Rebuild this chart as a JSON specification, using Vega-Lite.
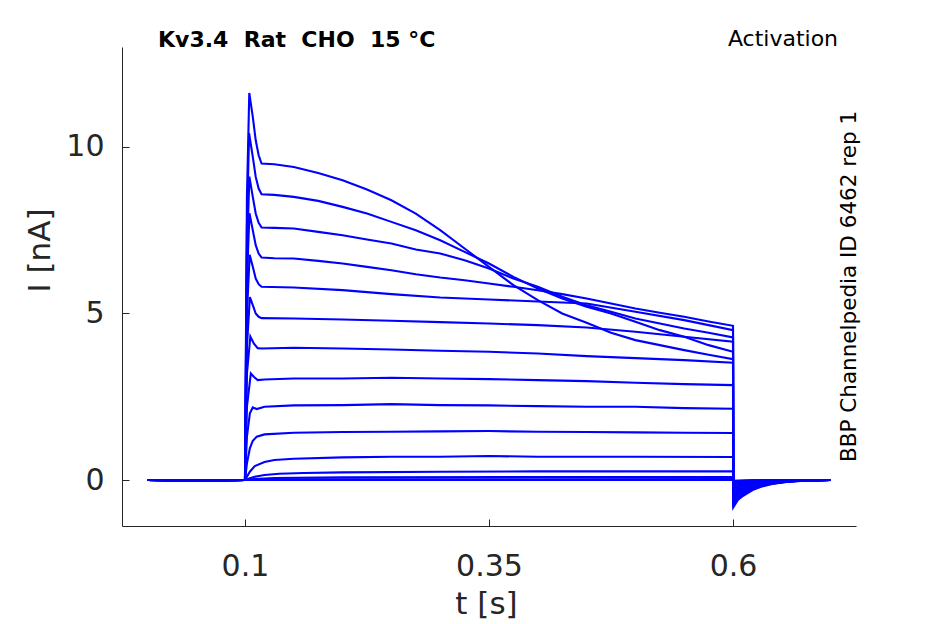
{
  "$schema": "https://vega.github.io/schema/vega-lite/v6.json",
  "width": 734,
  "height": 479,
  "autosize": {"type": "none"},
  "padding": {"left": 122, "top": 47, "right": 89, "bottom": 98},
  "background": "white",
  "datasets": {
    "sweeps": [
      {"sweep": 1, "t": 0, "I": 0}, {"sweep": 1, "t": 0.05, "I": -0.02}, {"sweep": 1, "t": 0.1, "I": 0},
      {"sweep": 1, "t": 0.102, "I": 8.5}, {"sweep": 1, "t": 0.1044, "I": 11.62}, {"sweep": 1, "t": 0.108, "I": 10.9},
      {"sweep": 1, "t": 0.111, "I": 10.2}, {"sweep": 1, "t": 0.114, "I": 9.75}, {"sweep": 1, "t": 0.117, "I": 9.5},
      {"sweep": 1, "t": 0.13, "I": 9.48}, {"sweep": 1, "t": 0.15, "I": 9.4}, {"sweep": 1, "t": 0.175, "I": 9.22},
      {"sweep": 1, "t": 0.2, "I": 9.0}, {"sweep": 1, "t": 0.225, "I": 8.72}, {"sweep": 1, "t": 0.25, "I": 8.4},
      {"sweep": 1, "t": 0.275, "I": 8.0}, {"sweep": 1, "t": 0.3, "I": 7.5}, {"sweep": 1, "t": 0.325, "I": 6.95},
      {"sweep": 1, "t": 0.35, "I": 6.4}, {"sweep": 1, "t": 0.375, "I": 5.85}, {"sweep": 1, "t": 0.4, "I": 5.4},
      {"sweep": 1, "t": 0.425, "I": 5.0}, {"sweep": 1, "t": 0.45, "I": 4.72}, {"sweep": 1, "t": 0.475, "I": 4.42},
      {"sweep": 1, "t": 0.5, "I": 4.2}, {"sweep": 1, "t": 0.525, "I": 4.05}, {"sweep": 1, "t": 0.55, "I": 3.9},
      {"sweep": 1, "t": 0.575, "I": 3.76}, {"sweep": 1, "t": 0.6, "I": 3.63}, {"sweep": 1, "t": 0.6003, "I": -0.82},
      {"sweep": 1, "t": 0.605, "I": -0.6}, {"sweep": 1, "t": 0.61, "I": -0.48}, {"sweep": 1, "t": 0.62, "I": -0.3},
      {"sweep": 1, "t": 0.63, "I": -0.19}, {"sweep": 1, "t": 0.64, "I": -0.12}, {"sweep": 1, "t": 0.655, "I": -0.06},
      {"sweep": 1, "t": 0.67, "I": -0.03}, {"sweep": 1, "t": 0.7, "I": 0},

      {"sweep": 2, "t": 0, "I": 0}, {"sweep": 2, "t": 0.05, "I": -0.01}, {"sweep": 2, "t": 0.1, "I": 0},
      {"sweep": 2, "t": 0.102, "I": 7.6}, {"sweep": 2, "t": 0.1042, "I": 10.41}, {"sweep": 2, "t": 0.108, "I": 9.7},
      {"sweep": 2, "t": 0.111, "I": 9.1}, {"sweep": 2, "t": 0.114, "I": 8.75}, {"sweep": 2, "t": 0.117, "I": 8.58},
      {"sweep": 2, "t": 0.13, "I": 8.56}, {"sweep": 2, "t": 0.15, "I": 8.5}, {"sweep": 2, "t": 0.175, "I": 8.38},
      {"sweep": 2, "t": 0.2, "I": 8.2}, {"sweep": 2, "t": 0.225, "I": 8.0}, {"sweep": 2, "t": 0.25, "I": 7.75},
      {"sweep": 2, "t": 0.275, "I": 7.5}, {"sweep": 2, "t": 0.3, "I": 7.2}, {"sweep": 2, "t": 0.325, "I": 6.85},
      {"sweep": 2, "t": 0.35, "I": 6.5}, {"sweep": 2, "t": 0.375, "I": 6.1}, {"sweep": 2, "t": 0.4, "I": 5.75},
      {"sweep": 2, "t": 0.425, "I": 5.45}, {"sweep": 2, "t": 0.45, "I": 5.2}, {"sweep": 2, "t": 0.475, "I": 5.0},
      {"sweep": 2, "t": 0.5, "I": 4.75}, {"sweep": 2, "t": 0.525, "I": 4.5}, {"sweep": 2, "t": 0.55, "I": 4.3},
      {"sweep": 2, "t": 0.575, "I": 4.05}, {"sweep": 2, "t": 0.6, "I": 3.85}, {"sweep": 2, "t": 0.6003, "I": -0.75},
      {"sweep": 2, "t": 0.605, "I": -0.55}, {"sweep": 2, "t": 0.61, "I": -0.44}, {"sweep": 2, "t": 0.62, "I": -0.28},
      {"sweep": 2, "t": 0.63, "I": -0.17}, {"sweep": 2, "t": 0.64, "I": -0.11}, {"sweep": 2, "t": 0.655, "I": -0.05},
      {"sweep": 2, "t": 0.67, "I": -0.02}, {"sweep": 2, "t": 0.7, "I": 0},

      {"sweep": 3, "t": 0, "I": 0}, {"sweep": 3, "t": 0.05, "I": -0.02}, {"sweep": 3, "t": 0.1, "I": 0},
      {"sweep": 3, "t": 0.102, "I": 6.8}, {"sweep": 3, "t": 0.1045, "I": 9.11}, {"sweep": 3, "t": 0.108, "I": 8.5},
      {"sweep": 3, "t": 0.111, "I": 8.0}, {"sweep": 3, "t": 0.114, "I": 7.72}, {"sweep": 3, "t": 0.117, "I": 7.58},
      {"sweep": 3, "t": 0.13, "I": 7.57}, {"sweep": 3, "t": 0.15, "I": 7.55}, {"sweep": 3, "t": 0.175, "I": 7.45},
      {"sweep": 3, "t": 0.2, "I": 7.35}, {"sweep": 3, "t": 0.225, "I": 7.22}, {"sweep": 3, "t": 0.25, "I": 7.1},
      {"sweep": 3, "t": 0.275, "I": 6.92}, {"sweep": 3, "t": 0.3, "I": 6.8}, {"sweep": 3, "t": 0.325, "I": 6.6},
      {"sweep": 3, "t": 0.35, "I": 6.35}, {"sweep": 3, "t": 0.375, "I": 6.05}, {"sweep": 3, "t": 0.4, "I": 5.8},
      {"sweep": 3, "t": 0.425, "I": 5.5}, {"sweep": 3, "t": 0.45, "I": 5.25}, {"sweep": 3, "t": 0.475, "I": 5.05},
      {"sweep": 3, "t": 0.5, "I": 4.85}, {"sweep": 3, "t": 0.525, "I": 4.7}, {"sweep": 3, "t": 0.55, "I": 4.55},
      {"sweep": 3, "t": 0.575, "I": 4.42}, {"sweep": 3, "t": 0.6, "I": 4.28}, {"sweep": 3, "t": 0.6003, "I": -0.68},
      {"sweep": 3, "t": 0.605, "I": -0.5}, {"sweep": 3, "t": 0.61, "I": -0.4}, {"sweep": 3, "t": 0.62, "I": -0.25},
      {"sweep": 3, "t": 0.63, "I": -0.16}, {"sweep": 3, "t": 0.64, "I": -0.1}, {"sweep": 3, "t": 0.655, "I": -0.05},
      {"sweep": 3, "t": 0.67, "I": -0.02}, {"sweep": 3, "t": 0.7, "I": 0},

      {"sweep": 4, "t": 0, "I": 0}, {"sweep": 4, "t": 0.05, "I": -0.01}, {"sweep": 4, "t": 0.1, "I": 0},
      {"sweep": 4, "t": 0.102, "I": 6.0}, {"sweep": 4, "t": 0.1046, "I": 8.01}, {"sweep": 4, "t": 0.108, "I": 7.5},
      {"sweep": 4, "t": 0.111, "I": 7.05}, {"sweep": 4, "t": 0.114, "I": 6.8}, {"sweep": 4, "t": 0.117, "I": 6.68},
      {"sweep": 4, "t": 0.13, "I": 6.66}, {"sweep": 4, "t": 0.15, "I": 6.65}, {"sweep": 4, "t": 0.175, "I": 6.58},
      {"sweep": 4, "t": 0.2, "I": 6.5}, {"sweep": 4, "t": 0.225, "I": 6.4}, {"sweep": 4, "t": 0.25, "I": 6.3},
      {"sweep": 4, "t": 0.275, "I": 6.18}, {"sweep": 4, "t": 0.3, "I": 6.08}, {"sweep": 4, "t": 0.325, "I": 6.0},
      {"sweep": 4, "t": 0.35, "I": 5.9}, {"sweep": 4, "t": 0.375, "I": 5.8}, {"sweep": 4, "t": 0.4, "I": 5.7},
      {"sweep": 4, "t": 0.425, "I": 5.58}, {"sweep": 4, "t": 0.45, "I": 5.45}, {"sweep": 4, "t": 0.475, "I": 5.3},
      {"sweep": 4, "t": 0.5, "I": 5.15}, {"sweep": 4, "t": 0.525, "I": 5.02}, {"sweep": 4, "t": 0.55, "I": 4.9},
      {"sweep": 4, "t": 0.575, "I": 4.76}, {"sweep": 4, "t": 0.6, "I": 4.63}, {"sweep": 4, "t": 0.6003, "I": -0.6},
      {"sweep": 4, "t": 0.605, "I": -0.44}, {"sweep": 4, "t": 0.61, "I": -0.35}, {"sweep": 4, "t": 0.62, "I": -0.22},
      {"sweep": 4, "t": 0.63, "I": -0.14}, {"sweep": 4, "t": 0.64, "I": -0.09}, {"sweep": 4, "t": 0.655, "I": -0.04},
      {"sweep": 4, "t": 0.67, "I": -0.02}, {"sweep": 4, "t": 0.7, "I": 0},

      {"sweep": 5, "t": 0, "I": 0}, {"sweep": 5, "t": 0.05, "I": -0.02}, {"sweep": 5, "t": 0.1, "I": 0},
      {"sweep": 5, "t": 0.102, "I": 5.0}, {"sweep": 5, "t": 0.1048, "I": 6.76}, {"sweep": 5, "t": 0.108, "I": 6.4},
      {"sweep": 5, "t": 0.111, "I": 6.05}, {"sweep": 5, "t": 0.114, "I": 5.88}, {"sweep": 5, "t": 0.117, "I": 5.8},
      {"sweep": 5, "t": 0.15, "I": 5.78}, {"sweep": 5, "t": 0.2, "I": 5.7}, {"sweep": 5, "t": 0.25, "I": 5.58},
      {"sweep": 5, "t": 0.3, "I": 5.48}, {"sweep": 5, "t": 0.35, "I": 5.42}, {"sweep": 5, "t": 0.4, "I": 5.36},
      {"sweep": 5, "t": 0.45, "I": 5.3}, {"sweep": 5, "t": 0.5, "I": 5.05}, {"sweep": 5, "t": 0.55, "I": 4.8},
      {"sweep": 5, "t": 0.6, "I": 4.5}, {"sweep": 5, "t": 0.6003, "I": -0.53}, {"sweep": 5, "t": 0.605, "I": -0.39},
      {"sweep": 5, "t": 0.61, "I": -0.31}, {"sweep": 5, "t": 0.62, "I": -0.2}, {"sweep": 5, "t": 0.63, "I": -0.12},
      {"sweep": 5, "t": 0.64, "I": -0.08}, {"sweep": 5, "t": 0.655, "I": -0.04}, {"sweep": 5, "t": 0.67, "I": -0.02},
      {"sweep": 5, "t": 0.7, "I": 0},

      {"sweep": 6, "t": 0, "I": 0}, {"sweep": 6, "t": 0.05, "I": -0.01}, {"sweep": 6, "t": 0.1, "I": 0},
      {"sweep": 6, "t": 0.102, "I": 4.0}, {"sweep": 6, "t": 0.105, "I": 5.49}, {"sweep": 6, "t": 0.108, "I": 5.25},
      {"sweep": 6, "t": 0.111, "I": 5.0}, {"sweep": 6, "t": 0.114, "I": 4.9}, {"sweep": 6, "t": 0.117, "I": 4.86},
      {"sweep": 6, "t": 0.15, "I": 4.85}, {"sweep": 6, "t": 0.2, "I": 4.82}, {"sweep": 6, "t": 0.25, "I": 4.78},
      {"sweep": 6, "t": 0.3, "I": 4.74}, {"sweep": 6, "t": 0.35, "I": 4.7}, {"sweep": 6, "t": 0.4, "I": 4.65},
      {"sweep": 6, "t": 0.45, "I": 4.58}, {"sweep": 6, "t": 0.5, "I": 4.45}, {"sweep": 6, "t": 0.55, "I": 4.3},
      {"sweep": 6, "t": 0.6, "I": 4.15}, {"sweep": 6, "t": 0.6003, "I": -0.46}, {"sweep": 6, "t": 0.605, "I": -0.34},
      {"sweep": 6, "t": 0.61, "I": -0.27}, {"sweep": 6, "t": 0.62, "I": -0.17}, {"sweep": 6, "t": 0.63, "I": -0.11},
      {"sweep": 6, "t": 0.64, "I": -0.07}, {"sweep": 6, "t": 0.655, "I": -0.03}, {"sweep": 6, "t": 0.67, "I": -0.01},
      {"sweep": 6, "t": 0.7, "I": 0},

      {"sweep": 7, "t": 0, "I": 0}, {"sweep": 7, "t": 0.05, "I": -0.02}, {"sweep": 7, "t": 0.1, "I": 0},
      {"sweep": 7, "t": 0.102, "I": 3.2}, {"sweep": 7, "t": 0.1055, "I": 4.31}, {"sweep": 7, "t": 0.109, "I": 4.1},
      {"sweep": 7, "t": 0.113, "I": 3.96}, {"sweep": 7, "t": 0.117, "I": 3.95}, {"sweep": 7, "t": 0.15, "I": 3.97},
      {"sweep": 7, "t": 0.2, "I": 3.95}, {"sweep": 7, "t": 0.25, "I": 3.92}, {"sweep": 7, "t": 0.3, "I": 3.88},
      {"sweep": 7, "t": 0.35, "I": 3.85}, {"sweep": 7, "t": 0.4, "I": 3.8}, {"sweep": 7, "t": 0.45, "I": 3.72},
      {"sweep": 7, "t": 0.5, "I": 3.66}, {"sweep": 7, "t": 0.55, "I": 3.6}, {"sweep": 7, "t": 0.6, "I": 3.52},
      {"sweep": 7, "t": 0.6003, "I": -0.4}, {"sweep": 7, "t": 0.605, "I": -0.29}, {"sweep": 7, "t": 0.61, "I": -0.23},
      {"sweep": 7, "t": 0.62, "I": -0.15}, {"sweep": 7, "t": 0.63, "I": -0.09}, {"sweep": 7, "t": 0.64, "I": -0.06},
      {"sweep": 7, "t": 0.655, "I": -0.03}, {"sweep": 7, "t": 0.67, "I": -0.01}, {"sweep": 7, "t": 0.7, "I": 0},

      {"sweep": 8, "t": 0, "I": 0}, {"sweep": 8, "t": 0.05, "I": -0.01}, {"sweep": 8, "t": 0.1, "I": 0},
      {"sweep": 8, "t": 0.102, "I": 2.2}, {"sweep": 8, "t": 0.106, "I": 3.2}, {"sweep": 8, "t": 0.109, "I": 3.1},
      {"sweep": 8, "t": 0.113, "I": 3.0}, {"sweep": 8, "t": 0.12, "I": 3.02}, {"sweep": 8, "t": 0.15, "I": 3.05},
      {"sweep": 8, "t": 0.2, "I": 3.05}, {"sweep": 8, "t": 0.25, "I": 3.07}, {"sweep": 8, "t": 0.3, "I": 3.05},
      {"sweep": 8, "t": 0.35, "I": 3.03}, {"sweep": 8, "t": 0.4, "I": 3.0}, {"sweep": 8, "t": 0.45, "I": 2.97},
      {"sweep": 8, "t": 0.5, "I": 2.92}, {"sweep": 8, "t": 0.55, "I": 2.88}, {"sweep": 8, "t": 0.6, "I": 2.85},
      {"sweep": 8, "t": 0.6003, "I": -0.33}, {"sweep": 8, "t": 0.605, "I": -0.24}, {"sweep": 8, "t": 0.61, "I": -0.19},
      {"sweep": 8, "t": 0.62, "I": -0.12}, {"sweep": 8, "t": 0.63, "I": -0.08}, {"sweep": 8, "t": 0.64, "I": -0.05},
      {"sweep": 8, "t": 0.655, "I": -0.02}, {"sweep": 8, "t": 0.67, "I": -0.01}, {"sweep": 8, "t": 0.7, "I": 0},

      {"sweep": 9, "t": 0, "I": 0}, {"sweep": 9, "t": 0.05, "I": -0.02}, {"sweep": 9, "t": 0.1, "I": 0},
      {"sweep": 9, "t": 0.102, "I": 1.3}, {"sweep": 9, "t": 0.105, "I": 2.0}, {"sweep": 9, "t": 0.108, "I": 2.18},
      {"sweep": 9, "t": 0.112, "I": 2.13}, {"sweep": 9, "t": 0.12, "I": 2.2}, {"sweep": 9, "t": 0.15, "I": 2.24},
      {"sweep": 9, "t": 0.2, "I": 2.25}, {"sweep": 9, "t": 0.25, "I": 2.28}, {"sweep": 9, "t": 0.3, "I": 2.25},
      {"sweep": 9, "t": 0.35, "I": 2.24}, {"sweep": 9, "t": 0.4, "I": 2.22}, {"sweep": 9, "t": 0.45, "I": 2.2},
      {"sweep": 9, "t": 0.5, "I": 2.2}, {"sweep": 9, "t": 0.55, "I": 2.16}, {"sweep": 9, "t": 0.6, "I": 2.14},
      {"sweep": 9, "t": 0.6003, "I": -0.26}, {"sweep": 9, "t": 0.605, "I": -0.19}, {"sweep": 9, "t": 0.61, "I": -0.15},
      {"sweep": 9, "t": 0.62, "I": -0.1}, {"sweep": 9, "t": 0.63, "I": -0.06}, {"sweep": 9, "t": 0.64, "I": -0.04},
      {"sweep": 9, "t": 0.655, "I": -0.02}, {"sweep": 9, "t": 0.67, "I": -0.01}, {"sweep": 9, "t": 0.7, "I": 0},

      {"sweep": 10, "t": 0, "I": 0}, {"sweep": 10, "t": 0.05, "I": -0.01}, {"sweep": 10, "t": 0.1, "I": 0},
      {"sweep": 10, "t": 0.102, "I": 0.5}, {"sweep": 10, "t": 0.105, "I": 0.95}, {"sweep": 10, "t": 0.108, "I": 1.18},
      {"sweep": 10, "t": 0.112, "I": 1.3}, {"sweep": 10, "t": 0.12, "I": 1.37}, {"sweep": 10, "t": 0.15, "I": 1.42},
      {"sweep": 10, "t": 0.2, "I": 1.44}, {"sweep": 10, "t": 0.25, "I": 1.45}, {"sweep": 10, "t": 0.3, "I": 1.46},
      {"sweep": 10, "t": 0.35, "I": 1.47}, {"sweep": 10, "t": 0.4, "I": 1.45}, {"sweep": 10, "t": 0.45, "I": 1.44},
      {"sweep": 10, "t": 0.5, "I": 1.43}, {"sweep": 10, "t": 0.55, "I": 1.42}, {"sweep": 10, "t": 0.6, "I": 1.41},
      {"sweep": 10, "t": 0.6003, "I": -0.2}, {"sweep": 10, "t": 0.605, "I": -0.15}, {"sweep": 10, "t": 0.61, "I": -0.12},
      {"sweep": 10, "t": 0.62, "I": -0.07}, {"sweep": 10, "t": 0.63, "I": -0.05}, {"sweep": 10, "t": 0.64, "I": -0.03},
      {"sweep": 10, "t": 0.655, "I": -0.01}, {"sweep": 10, "t": 0.7, "I": 0},

      {"sweep": 11, "t": 0, "I": 0}, {"sweep": 11, "t": 0.05, "I": -0.02}, {"sweep": 11, "t": 0.1, "I": 0},
      {"sweep": 11, "t": 0.102, "I": 0.1}, {"sweep": 11, "t": 0.105, "I": 0.25}, {"sweep": 11, "t": 0.11, "I": 0.42},
      {"sweep": 11, "t": 0.12, "I": 0.54}, {"sweep": 11, "t": 0.13, "I": 0.6}, {"sweep": 11, "t": 0.15, "I": 0.64},
      {"sweep": 11, "t": 0.2, "I": 0.68}, {"sweep": 11, "t": 0.25, "I": 0.7}, {"sweep": 11, "t": 0.3, "I": 0.7},
      {"sweep": 11, "t": 0.35, "I": 0.72}, {"sweep": 11, "t": 0.4, "I": 0.7}, {"sweep": 11, "t": 0.5, "I": 0.7},
      {"sweep": 11, "t": 0.6, "I": 0.69}, {"sweep": 11, "t": 0.6003, "I": -0.14}, {"sweep": 11, "t": 0.605, "I": -0.1},
      {"sweep": 11, "t": 0.61, "I": -0.08}, {"sweep": 11, "t": 0.62, "I": -0.05}, {"sweep": 11, "t": 0.63, "I": -0.03},
      {"sweep": 11, "t": 0.64, "I": -0.02}, {"sweep": 11, "t": 0.655, "I": -0.01}, {"sweep": 11, "t": 0.7, "I": 0},

      {"sweep": 12, "t": 0, "I": 0}, {"sweep": 12, "t": 0.05, "I": -0.01}, {"sweep": 12, "t": 0.1, "I": 0},
      {"sweep": 12, "t": 0.105, "I": 0.05}, {"sweep": 12, "t": 0.11, "I": 0.1}, {"sweep": 12, "t": 0.12, "I": 0.15},
      {"sweep": 12, "t": 0.135, "I": 0.19}, {"sweep": 12, "t": 0.16, "I": 0.21}, {"sweep": 12, "t": 0.2, "I": 0.23},
      {"sweep": 12, "t": 0.3, "I": 0.25}, {"sweep": 12, "t": 0.4, "I": 0.26}, {"sweep": 12, "t": 0.5, "I": 0.26},
      {"sweep": 12, "t": 0.6, "I": 0.26}, {"sweep": 12, "t": 0.6003, "I": -0.09}, {"sweep": 12, "t": 0.61, "I": -0.05},
      {"sweep": 12, "t": 0.62, "I": -0.03}, {"sweep": 12, "t": 0.64, "I": -0.01}, {"sweep": 12, "t": 0.7, "I": 0},

      {"sweep": 13, "t": 0, "I": 0}, {"sweep": 13, "t": 0.05, "I": -0.02}, {"sweep": 13, "t": 0.1, "I": 0},
      {"sweep": 13, "t": 0.11, "I": 0.03}, {"sweep": 13, "t": 0.13, "I": 0.06}, {"sweep": 13, "t": 0.2, "I": 0.08},
      {"sweep": 13, "t": 0.4, "I": 0.09}, {"sweep": 13, "t": 0.6, "I": 0.09}, {"sweep": 13, "t": 0.6003, "I": -0.05},
      {"sweep": 13, "t": 0.61, "I": -0.03}, {"sweep": 13, "t": 0.63, "I": -0.01}, {"sweep": 13, "t": 0.7, "I": 0},

      {"sweep": 14, "t": 0, "I": 0}, {"sweep": 14, "t": 0.05, "I": -0.01}, {"sweep": 14, "t": 0.1, "I": 0},
      {"sweep": 14, "t": 0.15, "I": 0.02}, {"sweep": 14, "t": 0.6, "I": 0.03}, {"sweep": 14, "t": 0.6003, "I": -0.03},
      {"sweep": 14, "t": 0.62, "I": -0.01}, {"sweep": 14, "t": 0.7, "I": 0},

      {"sweep": 15, "t": 0, "I": 0}, {"sweep": 15, "t": 0.05, "I": -0.02}, {"sweep": 15, "t": 0.1, "I": 0},
      {"sweep": 15, "t": 0.6, "I": 0}, {"sweep": 15, "t": 0.6003, "I": -0.02}, {"sweep": 15, "t": 0.62, "I": -0.01},
      {"sweep": 15, "t": 0.7, "I": 0}
    ],
    "one": [{}]
  },
  "layer": [
    {
      "data": {"name": "sweeps"},
      "mark": {"type": "line", "color": "#0000ff", "strokeWidth": 2.1, "clip": false},
      "encoding": {
        "x": {
          "field": "t",
          "type": "quantitative",
          "scale": {"domain": [-0.026, 0.726], "nice": false, "zero": false},
          "axis": {
            "title": "t [s]",
            "values": [0.1, 0.35, 0.6],
            "format": "~g",
            "titleY": 78,
            "titleX": 364,
            "titleBaseline": "middle"
          }
        },
        "y": {
          "field": "I",
          "type": "quantitative",
          "scale": {"domain": [-1.38, 13.0], "nice": false, "zero": false},
          "axis": {
            "title": "I [nA]",
            "values": [0, 5, 10],
            "titleX": -82,
            "titleY": 203,
            "titleBaseline": "middle",
            "labelPadding": 25
          }
        },
        "detail": {"field": "sweep", "type": "nominal"}
      }
    },
    {
      "data": {"name": "one"},
      "mark": {
        "type": "text",
        "text": "Kv3.4\u00a0 Rat\u00a0 CHO\u00a0 15 °C",
        "font": "DejaVu Sans",
        "fontWeight": "bold",
        "fontSize": 22,
        "align": "left",
        "baseline": "middle",
        "color": "black"
      },
      "encoding": {
        "x": {"datum": 0.0109, "type": "quantitative"},
        "y": {"datum": 13.21, "type": "quantitative"}
      }
    },
    {
      "data": {"name": "one"},
      "mark": {
        "type": "text",
        "text": "Activation",
        "font": "DejaVu Sans",
        "fontSize": 22,
        "align": "right",
        "baseline": "middle",
        "color": "black"
      },
      "encoding": {
        "x": {"datum": 0.7076, "type": "quantitative"},
        "y": {"datum": 13.24, "type": "quantitative"}
      }
    },
    {
      "data": {"name": "one"},
      "mark": {
        "type": "text",
        "text": "BBP Channelpedia ID 6462 rep 1",
        "font": "DejaVu Sans",
        "fontSize": 21.5,
        "angle": 270,
        "align": "center",
        "baseline": "middle",
        "color": "black"
      },
      "encoding": {
        "x": {"datum": 0.7198, "type": "quantitative"},
        "y": {"datum": 5.81, "type": "quantitative"}
      }
    }
  ],
  "config": {
    "view": {"stroke": null},
    "font": "DejaVu Sans",
    "axis": {
      "grid": false,
      "domainColor": "#262626",
      "domainWidth": 1,
      "tickColor": "#262626",
      "tickSize": -7,
      "labelColor": "#262626",
      "labelFont": "DejaVu Sans",
      "labelFontSize": 30,
      "titleFont": "DejaVu Sans",
      "titleFontSize": 31,
      "titleFontWeight": "normal",
      "titleColor": "#262626"
    },
    "axisX": {"labelPadding": 32}
  }
}
